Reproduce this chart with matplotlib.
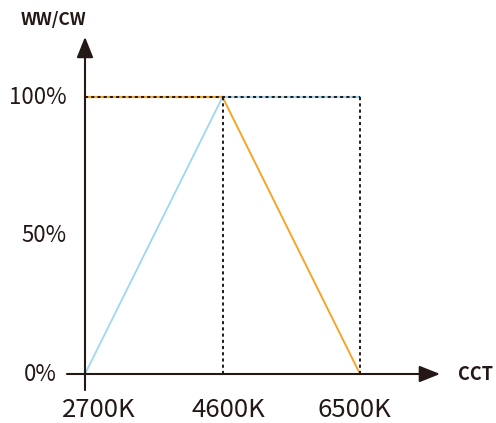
import matplotlib.pyplot as plt

# datos
cct = [2700, 4600, 6500]
cct_labels = ["2700K", "4600K", "6500K"]
ww = [100, 100, 0]     # naranja
cw = [0, 100, 100]     # azul
y_ticks = [0, 50, 100]
y_labels = ["0%", "50%", "100%"]

plt.rcParams['font.family'] = ['Noto Sans CJK SC', 'DejaVu Sans']
ink = '#231815'
naranja = '#f5a52a'
azul = '#9fd7f2'

fig = plt.figure(figsize=(4.96, 4.23), dpi=100)
ax = fig.add_axes([85 / 496, 49 / 423, 275 / 496, 277 / 423])
ax.set_xlim(2700, 6500)
ax.set_ylim(0, 100)
ax.axis('off')

# curvas WW / CW
ax.plot(cct[:2], ww[:2], color=naranja, lw=1.6, clip_on=False, zorder=3)
ax.plot(cct[1:], ww[1:], color=naranja, lw=1.4, clip_on=False, zorder=3)
ax.plot(cct[:2], cw[:2], color=azul, lw=1.3, clip_on=False, zorder=3)
ax.plot(cct[1:], cw[1:], color=azul, lw=1.6, clip_on=False, zorder=3)

# guias punteadas
punteado = dict(color=ink, lw=1.4, linestyle=(0, (1.6, 1.6)), clip_on=False, zorder=4)
ax.plot([cct[0], cct[-1]], [100, 100], **punteado)
for x in cct[1:]:
    ax.plot([x, x], [0, 100], **punteado)

# ejes con flecha
flecha = dict(arrowstyle='-|>,head_length=0.9,head_width=0.36', color=ink, lw=1.5,
              mutation_scale=14, shrinkA=0, shrinkB=0)
ax.annotate('', xy=(7606, 0), xytext=(2451, 0), arrowprops=flecha, annotation_clip=False)
ax.annotate('', xy=(2700, 121.7), xytext=(2700, -5.8), arrowprops=flecha, annotation_clip=False)

# etiquetas (las del eje x van algo desplazadas en el original)
desp_x = [10, 4, -4]
for x, lab, d in zip(cct, cct_labels, desp_x):
    ax.annotate(lab, xy=(x, 0), xytext=(d, -26), textcoords='offset points', ha='center',
                va='center', fontsize=18.5, fontweight='light', color=ink, annotation_clip=False)
for y, lab in zip(y_ticks, y_labels):
    dx = -20 if y == 0 else -13
    ax.annotate(lab, xy=(2700, y), xytext=(dx, 0), textcoords='offset points', ha='right',
                va='center', fontsize=16, fontweight='light', color=ink, annotation_clip=False)
ax.annotate('CCT', xy=(7606, 0), xytext=(13, 0), textcoords='offset points', ha='left',
            va='center', fontsize=13, fontweight='bold', color=ink, annotation_clip=False)
ax.annotate('WW/CW', xy=(2700, 121.7), xytext=(-23, 12), textcoords='offset points', ha='center',
            va='center', fontsize=12.5, fontweight='bold', color=ink, annotation_clip=False)

fig.savefig('out.png', dpi=100)
